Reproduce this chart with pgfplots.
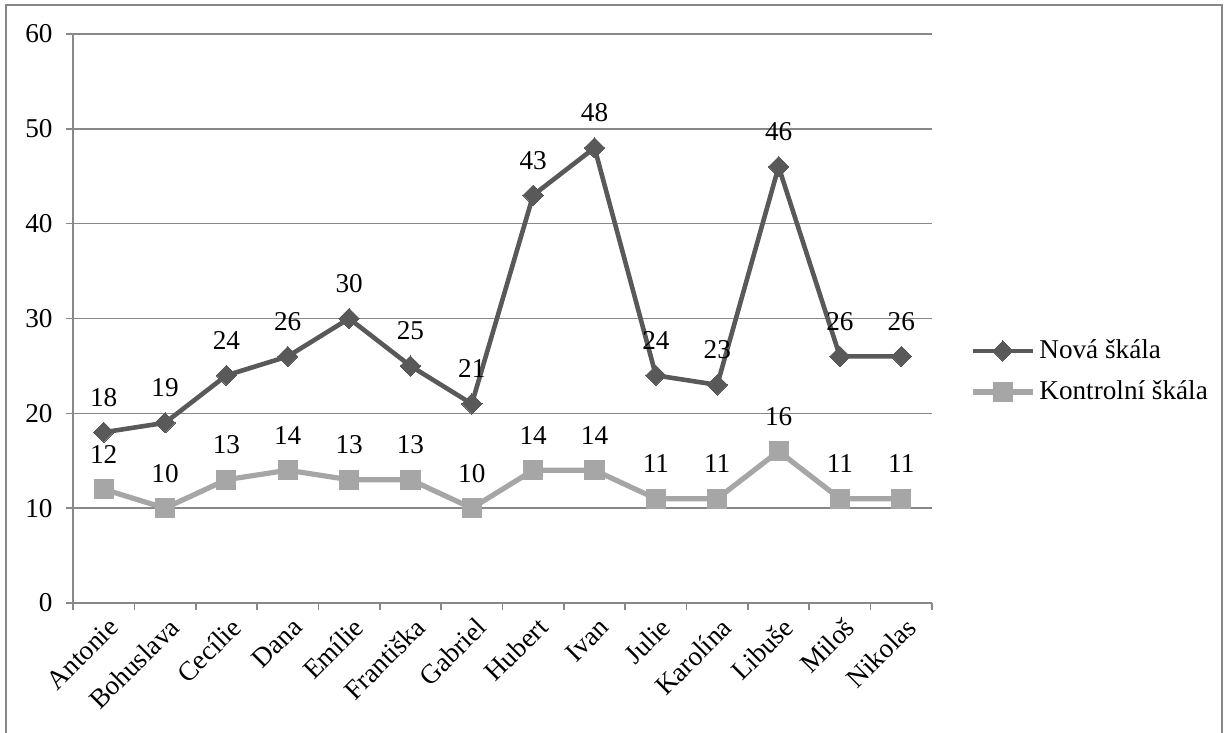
\documentclass[border=0pt]{standalone}
\usepackage{fontspec}
\setmainfont{Liberation Serif}
\usepackage{pgfplots}
\pgfplotsset{compat=1.18}
\definecolor{novacol}{HTML}{595959}
\definecolor{kontcol}{HTML}{A6A6A6}
\definecolor{gridcol}{HTML}{888888}
\newcommand{\chartfont}{\fontsize{13.6pt}{15pt}\selectfont}

\begin{document}
\chartfont
\begin{tikzpicture}
\useasboundingbox (-36.5pt,-65pt) rectangle (577.5pt,301.5pt);
\draw[gridcol, line width=0.8pt] (-33.5pt,-70pt) rectangle (574.5pt,299pt);
\begin{axis}[
  at={(0,0)}, anchor=south west,
  scale only axis, width=429.5pt, height=284.5pt,
  xmin=-0.5, xmax=13.5, ymin=0, ymax=60,
  ytick={0,10,...,60},
  xtick={0,...,13},
  xticklabels={Antonie,Bohuslava,Cecílie,Dana,Emílie,Františka,Gabriel,Hubert,Ivan,Julie,Karolína,Libuše,Miloš,Nikolas},
  minor xtick={-0.5,0.5,...,13.5},
  major x tick style={draw=none},
  minor x tick style={gridcol, line width=0.8pt},
  y tick style={gridcol, line width=0.8pt},
  tick align=outside, major tick length=3.5pt, minor tick length=3.5pt,
  axis x line*=bottom, axis y line*=left,
  axis line style={gridcol, line width=0.8pt, -},
  ymajorgrids, grid style={gridcol, line width=0.8pt},
  /pgf/number format/assume math mode=true,
  every tick label/.append style={font=\chartfont},
  yticklabel style={xshift=-2pt},
  xticklabel style={rotate=45, anchor=east, inner sep=1pt, xshift=0pt, yshift=-8pt},
  nodes near coords,
  every node near coord/.append style={anchor=center, yshift=17.5pt, font=\chartfont, text=black},
  legend style={at={(1.044,0.407)}, anchor=west, draw=none, fill=none,
    font=\chartfont, row sep=5pt, inner sep=0pt,
    /tikz/every even column/.append style={column sep=0pt}},
  legend cell align=left,
  legend image code/.code={
    \draw[mark repeat=2, mark phase=2] plot coordinates {(0pt,0pt) (15pt,0pt) (30pt,0pt)};
  },
]
\addplot[novacol, line width=2.3pt, mark=square*, mark size=3.6pt,
  mark options={rotate=45, solid, fill=novacol, draw=novacol, line width=0pt}] coordinates {
(0,18) (1,19) (2,24) (3,26) (4,30) (5,25) (6,21) (7,43) (8,48) (9,24) (10,23) (11,46) (12,26) (13,26)
};
\addlegendentry{Nová škála}
\addplot[kontcol, line width=2.6pt, mark=square*, mark size=4.8pt,
  mark options={solid, fill=kontcol, draw=kontcol, line width=0pt}] coordinates {
(0,12) (1,10) (2,13) (3,14) (4,13) (5,13) (6,10) (7,14) (8,14) (9,11) (10,11) (11,16) (12,11) (13,11)
};
\addlegendentry{Kontrolní škála}
\end{axis}
\end{tikzpicture}
\end{document}
